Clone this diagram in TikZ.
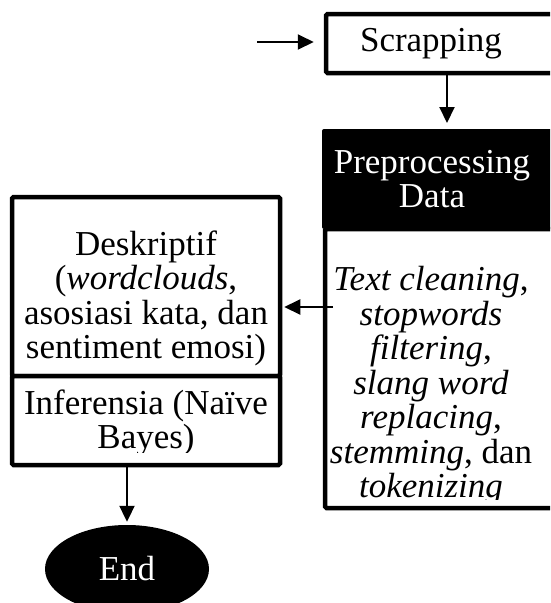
\documentclass[tikz,border=0pt]{standalone}
\usepackage{fontspec}
\setmainfont{Liberation Serif}
\usetikzlibrary{arrows.meta, positioning, calc, shapes.geometric}
\newcommand{\bodyfont}{\fontsize{35}{34.5}\selectfont}

\begin{document}
\begin{tikzpicture}[x=1pt, y=-1pt,
    box/.style={draw, line width=4.5pt, rounded corners=1.5pt,
                fill=white, inner sep=0pt},
    blk/.style={fill=black, rounded corners=2pt, inner sep=0pt},
    txt/.style={font=\bodyfont, align=center, inner sep=0pt},
    arr/.style={-{Triangle[length=16pt, width=15pt]}, line width=2pt},
  ]
  \clip (0,0) rectangle (550,603);

  % right column
  \node[box, minimum width=236pt, minimum height=59pt] (scrap)
      at (444, 43.5) {};
  \node[txt] (scraptxt) at ([xshift=-13pt]scrap.center) {Scrapping};
  \node[blk, minimum width=236pt, minimum height=100pt] (prep)
      at (440, 179) {};
  \node[txt, text=white] (preptxt) at ([xshift=-8pt]prep.center)
      {Preprocessing\\Data};
  \node[box, minimum width=233pt, minimum height=279pt] (steps)
      at (441.5, 368.5) {};
  \begin{scope}
    \clip (327.5, 233) rectangle (556, 499);
    \node[txt] (stepstxt) at (431, 386)
        {\textit{Text cleaning},\\\textit{stopwords}\\\textit{filtering},\\
         \textit{slang word}\\\textit{replacing},\\\textit{stemming}, dan\\
         \textit{tokenizing}};
  \end{scope}

  % left column
  \node[box, minimum width=268pt, minimum height=179pt] (desc)
      at (146, 286.5) {};
  \node[txt] (desctxt) at (146, 298.5)
      {Deskriptif\\(\textit{wordclouds},\\asosiasi kata, dan\\sentiment emosi)};
  \node[box, minimum width=268pt, minimum height=89pt] (infer)
      at (146, 420.5) {};
  \begin{scope}
    \clip (16, 380) rectangle (276, 452);
    \node[txt] (infertxt) at (146, 423) {Inferensia (Naïve\\Bayes)};
  \end{scope}
  \node[ellipse, fill=black, text=white, txt, minimum width=164pt,
        minimum height=88pt] (finish) at (127, 569) {End};

  % connectors
  \coordinate (start) at (257, 42);
  \coordinate (back) at (333, 307);
  \draw[arr] (start) -- ([xshift=-10pt]scrap.west |- start);
  \draw[arr, shorten >=6pt] (447, 73) -- (447, 129);
  \draw[arr, shorten >=2pt] (back) -- (back -| desc.east);
  \draw[arr, shorten >=3pt] (infer.south -| finish.north) -- (finish.north);
\end{tikzpicture}
\end{document}
